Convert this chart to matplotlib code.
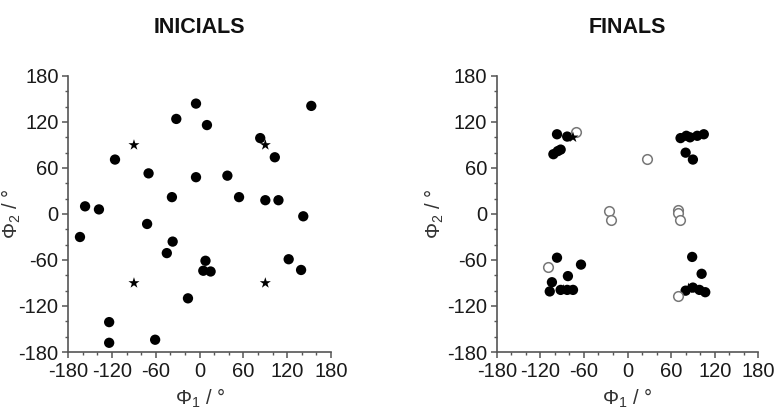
import matplotlib
matplotlib.use("Agg")
import matplotlib.pyplot as plt
from matplotlib.ticker import MultipleLocator

plt.rcParams['font.family'] = ['Liberation Sans', 'DejaVu Sans']
plt.rcParams['axes.unicode_minus'] = False
plt.rcParams['mathtext.fontset'] = 'custom'
plt.rcParams['mathtext.rm'] = 'Liberation Sans'
plt.rcParams['mathtext.it'] = 'Liberation Sans'
plt.rcParams['mathtext.bf'] = 'Liberation Sans:bold'

# ---- data: INICIALS ----
ini_phi1 = [-5, 153, -32, 10, 83, -116, 103, -70, -5, 38, -38, 54, 90, 108,
            -157, -138, 142, -72, -164, -37, -45, 8, 122, 5, 15, 139, -16,
            -124, -124, -61]
ini_phi2 = [144, 141, 124, 116, 99, 71, 74, 53, 48, 50, 22, 22, 18, 18,
            10, 6, -3, -13, -30, -36, -51, -61, -59, -74, -75, -73, -110,
            -141, -168, -164]
ini_star_phi1 = [-90, 90, -90, 90]
ini_star_phi2 = [90, 90, -90, -90]

# ---- data: FINALS ----
fin_phi1 = [-97, -83, -102, -96, -92,
            73, 81, 86, 96, 105, 80, 90,
            -97, -64, -82, -104, -107, -92, -83, -75,
            89, 102, 80, 90, 99, 107]
fin_phi2 = [104, 101, 78, 82, 84,
            99, 102, 100, 102, 104, 80, 71,
            -57, -66, -81, -89, -101, -99, -99, -99,
            -56, -78, -100, -96, -99, -102]
fin_open_phi1 = [-71, 27, -26, -23, 69, 70, 72, -110, 69]
fin_open_phi2 = [107, 72, 4, -8, 5, 1, -8, -69, -107]
fin_star_phi1 = [-75, -88, 84]
fin_star_phi2 = [100, -99, -97]

titles = ["INICIALS", "FINALS"]
ticks = [-180, -120, -60, 0, 60, 120, 180]

fig = plt.figure(figsize=(7.77, 4.12), dpi=100)
ax1 = fig.add_axes([68.3 / 777, 1 - 352 / 412, 262.7 / 777, 276 / 412])
ax2 = fig.add_axes([496.7 / 777, 1 - 352 / 412, 261.6 / 777, 276 / 412])

axc = '#555555'
ylab_x = [-0.172, -0.195]
for ax, title, yx in zip([ax1, ax2], titles, ylab_x):
    ax.set_xlim(-180, 180)
    ax.set_ylim(-180, 180)
    ax.set_xticks(ticks)
    ax.set_yticks(ticks)
    ax.xaxis.set_minor_locator(MultipleLocator(20))
    ax.yaxis.set_minor_locator(MultipleLocator(20))
    for s in ['top', 'right']:
        ax.spines[s].set_visible(False)
    for s in ['left', 'bottom']:
        ax.spines[s].set_color(axc)
        ax.spines[s].set_linewidth(1.2)
    ax.tick_params(which='major', direction='out', length=4.5, width=1.1,
                   color=axc, labelsize=14.5, pad=2.5, labelcolor='#1a1a1a')
    ax.tick_params(which='minor', direction='out', length=2.5, width=1.0,
                   color=axc)
    ax.set_xlabel(r'$\Phi_1$ / °', fontsize=14.5, color='#333333', labelpad=4)
    ax.set_ylabel(r'$\Phi_2$ / °', fontsize=14.5, color='#333333')
    ax.yaxis.set_label_coords(yx, 0.5)
    ax.set_title(title, fontsize=15.5, fontweight='bold', pad=31, color='#111111')

ax1.scatter(ini_phi1, ini_phi2, s=55, c='black', edgecolors='none', zorder=3,
            clip_on=False)
ax1.scatter(ini_star_phi1, ini_star_phi2, s=70, c='black', marker='*',
            edgecolors='none', zorder=4)

ax2.scatter(fin_phi1, fin_phi2, s=55, c='black', edgecolors='none', zorder=3)
ax2.scatter(fin_open_phi1, fin_open_phi2, s=48, facecolors='white',
            edgecolors='#777777', linewidths=1.1, zorder=4)
ax2.scatter(fin_star_phi1, fin_star_phi2, s=70, c='black', marker='*',
            edgecolors='none', zorder=5)

fig.savefig('out.png', dpi=100)
